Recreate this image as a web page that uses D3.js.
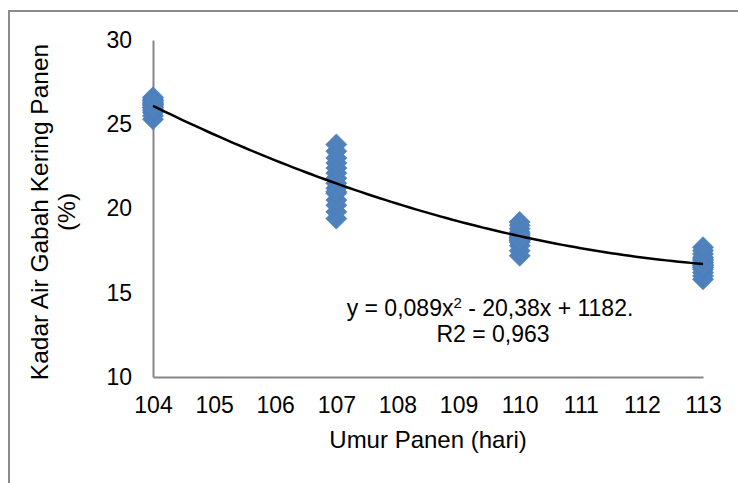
<!DOCTYPE html>
<html>
<head>
<meta charset="utf-8">
<script src="https://cdn.jsdelivr.net/npm/d3@7"></script>
<style>
  html, body { margin: 0; padding: 0; background: #fff; }
  svg { display: block; font-family: Arial, "Liberation Sans", sans-serif; }
</style>
</head>
<body>
<div id="chart"></div>
<script>
// ==========================================
// DATA
// ==========================================
const harvestDays = [104, 107, 110, 113];
const moisture104 = [25.3, 25.5, 25.7, 25.8, 26.0, 26.1, 26.2, 26.3, 26.4, 26.5, 26.6, 26.2, 25.9, 26.0, 26.4];
const moisture107 = [19.4, 19.8, 20.2, 20.5, 20.9, 21.2, 21.5, 21.8, 22.1, 22.4, 22.7, 23.0, 23.4, 23.8, 21.0];
const moisture110 = [17.2, 17.5, 17.8, 18.0, 18.1, 18.2, 18.3, 18.4, 18.5, 18.6, 18.8, 19.0, 19.2, 18.3, 18.1];
const moisture113 = [15.8, 16.0, 16.2, 16.4, 16.5, 16.6, 16.7, 16.8, 16.9, 17.0, 17.1, 17.3, 17.5, 17.7, 16.6];
const xTicks = [104, 105, 106, 107, 108, 109, 110, 111, 112, 113];
const yTicks = [10, 15, 20, 25, 30];
const equationText = 'y = 0,089x';
const equationRest = ' - 20,38x + 1182.';
const r2Text = 'R2 = 0,963';

const OPTS = {
    width: 738,
    height: 483,
    plot: { left: 153, right: 703, top: 40, bottom: 377 },
    markerR: 10.5,
    markerFill: '#4f81bd',
    markerStroke: '#4a7ebb',
    axisColor: '#868686',
    frameColor: '#8c8c8c'
};

const points = [];
[moisture104, moisture107, moisture110, moisture113].forEach((vals, i) => {
    vals.forEach(v => points.push({ x: harvestDays[i], y: v }));
});

// least squares quadratic fit (Excel polynomial trendline, order 2)
function quadFit(pts) {
    const x0 = 108; // center x for numeric stability
    const S = [0, 0, 0, 0, 0];
    const T = [0, 0, 0];
    pts.forEach(p => {
        const t = p.x - x0;
        for (let k = 0; k < 5; k++) S[k] += Math.pow(t, k);
        for (let k = 0; k < 3; k++) T[k] += p.y * Math.pow(t, k);
    });
    const A = [[S[0], S[1], S[2], T[0]], [S[1], S[2], S[3], T[1]], [S[2], S[3], S[4], T[2]]];
    for (let i = 0; i < 3; i++) {
        for (let j = i + 1; j < 3; j++) {
            const f = A[j][i] / A[i][i];
            for (let k = i; k < 4; k++) A[j][k] -= f * A[i][k];
        }
    }
    const c = [0, 0, 0];
    for (let i = 2; i >= 0; i--) {
        let s = A[i][3];
        for (let k = i + 1; k < 3; k++) s -= A[i][k] * c[k];
        c[i] = s / A[i][i];
    }
    return x => { const t = x - x0; return c[0] + c[1] * t + c[2] * t * t; };
}

const svg = d3.select('#chart').append('svg')
    .attr('width', OPTS.width)
    .attr('height', OPTS.height);

// chart area frame (only left and top visible in the crop)
svg.append('path')
    .attr('d', `M9,${OPTS.height} L9,11 L${OPTS.width},11`)
    .attr('fill', 'none')
    .attr('stroke', OPTS.frameColor)
    .attr('stroke-width', 2);

const { plot } = OPTS;
const x = d3.scaleLinear().domain([104, 113]).range([plot.left, plot.right]);
const y = d3.scaleLinear().domain([10, 30]).range([plot.bottom, plot.top]);

// axes
const yAxis = d3.axisLeft(y).tickValues(yTicks).tickSize(0).tickPadding(21);
const gy = svg.append('g').attr('transform', `translate(${plot.left},0)`).call(yAxis);
gy.select('.domain').attr('stroke', OPTS.axisColor).attr('stroke-width', 2);
gy.selectAll('text').attr('font-size', 23).attr('fill', '#000')
    .attr('font-family', 'Arial, "Liberation Sans", sans-serif');

const xAxis = d3.axisBottom(x).tickValues(xTicks).tickSize(0).tickPadding(20).tickFormat(d3.format('d'));
const gx = svg.append('g').attr('transform', `translate(0,${plot.bottom})`).call(xAxis);
gx.select('.domain').attr('stroke', OPTS.axisColor).attr('stroke-width', 2);
gx.selectAll('text').attr('font-size', 23).attr('fill', '#000')
    .attr('font-family', 'Arial, "Liberation Sans", sans-serif');

// markers
const r = OPTS.markerR;
svg.append('g').selectAll('path')
    .data(points)
    .join('path')
    .attr('d', `M0,${-r} L${r},0 L0,${r} L${-r},0 Z`)
    .attr('transform', d => `translate(${x(d.x)},${y(d.y)})`)
    .attr('fill', OPTS.markerFill)
    .attr('stroke', OPTS.markerStroke)
    .attr('stroke-width', 0.75);

// trendline
const fit = quadFit(points);
const trendXs = d3.range(104, 113.0001, 0.1);
svg.append('path')
    .datum(trendXs)
    .attr('fill', 'none')
    .attr('stroke', '#000')
    .attr('stroke-width', 2.5)
    .attr('d', d3.line().x(d => x(d)).y(d => y(fit(d))));

// equation label
const eq = svg.append('text')
    .attr('x', 490)
    .attr('y', 316)
    .attr('text-anchor', 'middle')
    .attr('font-size', 23)
    .attr('fill', '#000');
eq.append('tspan').text(equationText);
eq.append('tspan').attr('font-size', 15).attr('dy', -8).text('2');
eq.append('tspan').attr('dy', 8).text(equationRest);

svg.append('text')
    .attr('x', 493)
    .attr('y', 342)
    .attr('text-anchor', 'middle')
    .attr('font-size', 23)
    .attr('fill', '#000')
    .text(r2Text);

// axis titles
svg.append('text')
    .attr('x', 428)
    .attr('y', 448)
    .attr('text-anchor', 'middle')
    .attr('font-size', 24)
    .attr('fill', '#000')
    .text('Umur Panen (hari)');

const yTitle = svg.append('text')
    .attr('transform', `translate(48,212) rotate(-90)`)
    .attr('text-anchor', 'middle')
    .attr('font-size', 24.5)
    .attr('fill', '#000');
yTitle.append('tspan').attr('x', 0).attr('y', 0).text('Kadar Air Gabah Kering Panen');
yTitle.append('tspan').attr('x', 0).attr('y', 27).text('(%)');
</script>
</body>
</html>
